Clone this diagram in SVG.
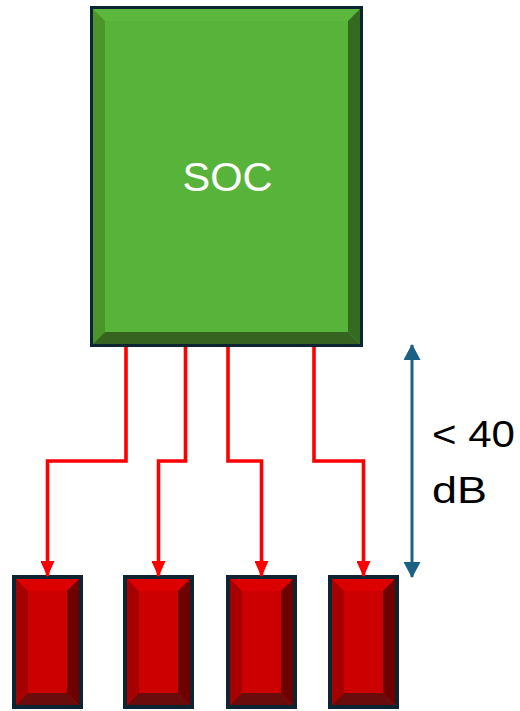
<svg xmlns="http://www.w3.org/2000/svg" width="520" height="711" viewBox="0 0 520 711">
<defs>
<style>
.wire{fill:none;stroke:#ff0000;stroke-width:3.6}
.dim{fill:none;stroke:#1b6185;stroke-width:3}
.border{fill:none;stroke:#0d2433}
.lbl{font-family:"Liberation Sans",Arial,sans-serif}
.rface{fill:#cc0000}.rtop{fill:#dc0000}.rleft{fill:#a60000}.rright{fill:#6e0000}.rbot{fill:#6a0c0c}
</style>
<marker id="ra" viewBox="0 0 16 14" refX="15" refY="7" markerWidth="16" markerHeight="14" markerUnits="userSpaceOnUse" orient="auto">
<path d="M0,0 L16,7 L0,14 Z" fill="#ff0000"/>
</marker>
<marker id="ba" viewBox="0 0 16 17" refX="15" refY="8.5" markerWidth="16" markerHeight="17" markerUnits="userSpaceOnUse" orient="auto-start-reverse">
<path d="M0,0 L16,8.5 L0,17 Z" fill="#1b6185"/>
</marker>
<g id="redbox">
<rect x="0" y="0" width="71" height="134" class="rface"/>
<polygon points="4,4 67,4 55,16 16,16" class="rtop"/>
<polygon points="4,4 16,16 16,118 4,130" class="rleft"/>
<polygon points="67,4 67,130 55,118 55,16" class="rright"/>
<polygon points="4,130 16,118 55,118 67,130" class="rbot"/>
<rect x="2" y="2" width="67" height="130" class="border" stroke-width="4"/>
</g>
</defs>
<rect width="520" height="711" fill="#ffffff"/>

<g id="soc">
<rect x="90" y="6" width="273" height="341" fill="#58b33a"/>
<polygon points="93,9 360,9 348,21 105,21" fill="#5cb83c"/>
<polygon points="93,9 105,21 105,332 93,344" fill="#4a962a"/>
<polygon points="360,9 360,344 348,332 348,21" fill="#356b21"/>
<polygon points="93,344 105,332 348,332 360,344" fill="#36631f"/>
<rect x="91.5" y="7.5" width="270" height="338" class="border" stroke-width="3"/>
<text x="227.5" y="191" class="lbl" font-size="40" fill="#ffffff" text-anchor="middle" textLength="90" lengthAdjust="spacingAndGlyphs">SOC</text>
</g>

<g id="rx1"><use href="#redbox" x="12" y="575"/></g>
<g id="rx2"><use href="#redbox" x="123" y="575"/></g>
<g id="rx3"><use href="#redbox" x="226" y="575"/></g>
<g id="rx4"><use href="#redbox" x="328" y="575"/></g>

<g id="connectors">
<path class="wire" d="M126,347 V461 H47.5 V576" marker-end="url(#ra)"/>
<path class="wire" d="M185.5,347 V461 H158.5 V576" marker-end="url(#ra)"/>
<path class="wire" d="M228,347 V461 H261.5 V576" marker-end="url(#ra)"/>
<path class="wire" d="M314,347 V461 H363.5 V576" marker-end="url(#ra)"/>
<path class="dim" d="M412,345 V577" marker-start="url(#ba)" marker-end="url(#ba)"/>
</g>

<g id="label">
<text x="432" y="447" class="lbl" font-size="36" fill="#000000" textLength="83" lengthAdjust="spacingAndGlyphs">&lt; 40</text>
<text x="432" y="503" class="lbl" font-size="36" fill="#000000" textLength="55" lengthAdjust="spacingAndGlyphs">dB</text>
</g>
</svg>
